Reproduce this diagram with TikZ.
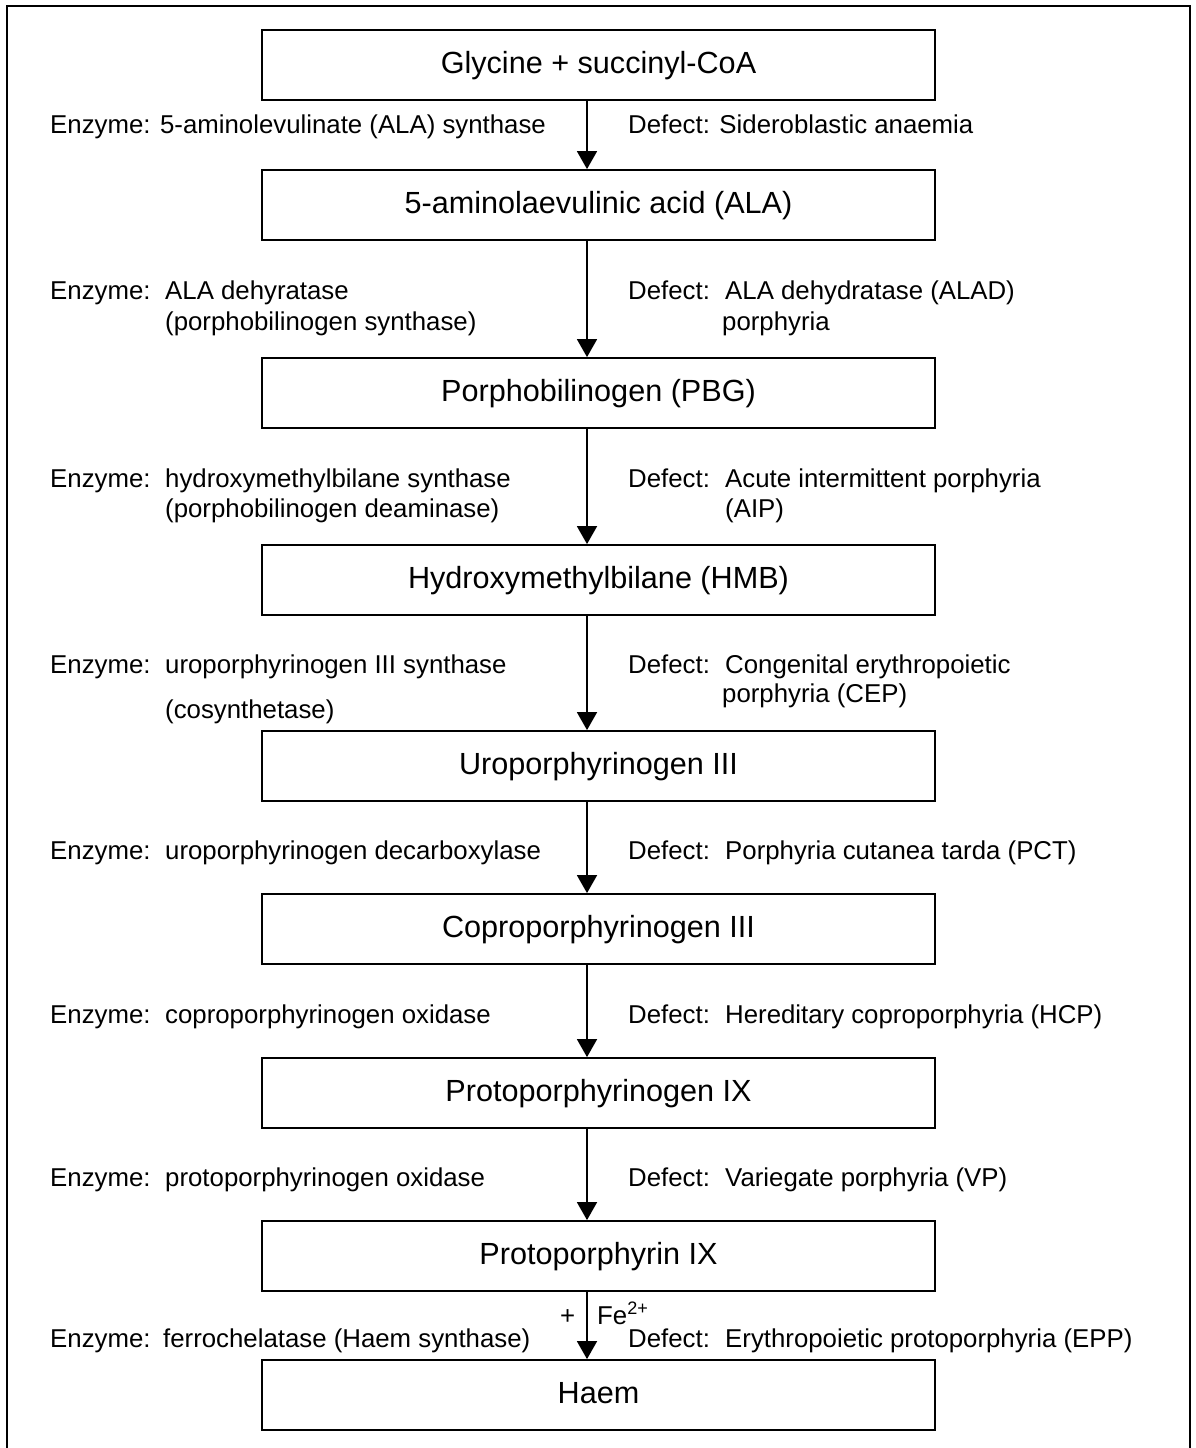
\documentclass[tikz,border=0pt]{standalone}
\usepackage{fontspec}
\setmainfont{Liberation Sans}
\usetikzlibrary{arrows.meta,calc}
\newcommand{\lblfont}{\fontsize{25.8}{30}\selectfont}
\newcommand{\bxfont}{\fontsize{30.6}{36}\selectfont}
\begin{document}
\begin{tikzpicture}[x=1pt,y=-1pt,
  stepbox/.style={draw, line width=1.8pt, minimum width=673pt, minimum height=70pt,
    inner sep=0pt, font=\bxfont, text height=22pt, text depth=6pt},
  lbl/.style={anchor=base west, inner sep=0pt, font=\lblfont},
  arr/.style={line width=1.7pt, -{Triangle[length=18pt,width=20pt]}},
  frame/.style={draw, line width=1.8pt}]
\useasboundingbox (0,0) rectangle (1195,1448);
\draw[frame] (7,6) rectangle (1190,1456);
% boxes
\node[stepbox] (b1) at (598.5,65)   {Glycine + succinyl-CoA};
\node[stepbox] (b2) at (598.5,205)  {5-aminolaevulinic acid (ALA)};
\node[stepbox] (b3) at (598.5,393)  {Porphobilinogen (PBG)};
\node[stepbox] (b4) at (598.5,580)  {Hydroxymethylbilane (HMB)};
\node[stepbox] (b5) at (598.5,766)  {Uroporphyrinogen III};
\node[stepbox] (b6) at (598.5,929)  {Coproporphyrinogen III};
\node[stepbox] (b7) at (598.5,1093) {Protoporphyrinogen IX};
\node[stepbox] (b8) at (598.5,1256) {Protoporphyrin IX};
\node[stepbox] (b9) at (598.5,1395) {Haem};
% arrows
\coordinate (ax) at (587,0);
\foreach \a/\b in {b1/b2,b2/b3,b3/b4,b4/b5,b5/b6,b6/b7,b7/b8,b8/b9}
  \draw[arr] (\a.south -| ax) -- (\b.north -| ax);
% row 1
\node[lbl] (e1) at (50,133) {Enzyme: 5-aminolevulinate (ALA) synthase};
\node[lbl] (d1) at (628,133) {Defect: Sideroblastic anaemia};
% row 2
\node[lbl] (e2) at (50,299) {Enzyme:};
\node[lbl] (e2a) at (165,299) {ALA dehyratase};
\node[lbl] (e2b) at (165,330) {(porphobilinogen synthase)};
\node[lbl] (d2) at (628,299) {Defect:};
\node[lbl] (d2a) at (725,299) {ALA dehydratase (ALAD)};
\node[lbl] (d2b) at (722,330) {porphyria};
% row 3
\node[lbl] (e3) at (50,487) {Enzyme:};
\node[lbl] (e3a) at (165,487) {hydroxymethylbilane synthase};
\node[lbl] (e3b) at (165,517) {(porphobilinogen deaminase)};
\node[lbl] (d3) at (628,487) {Defect:};
\node[lbl] (d3a) at (725,487) {Acute intermittent porphyria};
\node[lbl] (d3b) at (725,517) {(AIP)};
% row 4
\node[lbl] (e4) at (50,673) {Enzyme:};
\node[lbl] (e4a) at (165,673) {uroporphyrinogen III synthase};
\node[lbl] (e4b) at (165,718) {(cosynthetase)};
\node[lbl] (d4) at (628,673) {Defect:};
\node[lbl] (d4a) at (725,673) {Congenital erythropoietic};
\node[lbl] (d4b) at (722,702) {porphyria (CEP)};
% row 5
\node[lbl] (e5) at (50,859) {Enzyme:};
\node[lbl] (e5a) at (165,859) {uroporphyrinogen decarboxylase};
\node[lbl] (d5) at (628,859) {Defect:};
\node[lbl] (d5a) at (725,859) {Porphyria cutanea tarda (PCT)};
% row 6
\node[lbl] (e6) at (50,1023) {Enzyme:};
\node[lbl] (e6a) at (165,1023) {coproporphyrinogen oxidase};
\node[lbl] (d6) at (628,1023) {Defect:};
\node[lbl] (d6a) at (725,1023) {Hereditary coproporphyria (HCP)};
% row 7
\node[lbl] (e7) at (50,1186) {Enzyme:};
\node[lbl] (e7a) at (165,1186) {protoporphyrinogen oxidase};
\node[lbl] (d7) at (628,1186) {Defect:};
\node[lbl] (d7a) at (725,1186) {Variegate porphyria (VP)};
% row 8
\node[lbl] (e8) at (50,1347) {Enzyme:};
\node[lbl] (e8a) at (163,1347) {ferrochelatase (Haem synthase)};
\node[lbl] (d8) at (628,1347) {Defect:};
\node[lbl] (d8a) at (725,1347) {Erythropoietic protoporphyria (EPP)};
\node[lbl] (plus) at (560,1324) {+};
\node[lbl] (fe) at (597,1324) {Fe\textsuperscript{2+}};
\end{tikzpicture}
\end{document}
